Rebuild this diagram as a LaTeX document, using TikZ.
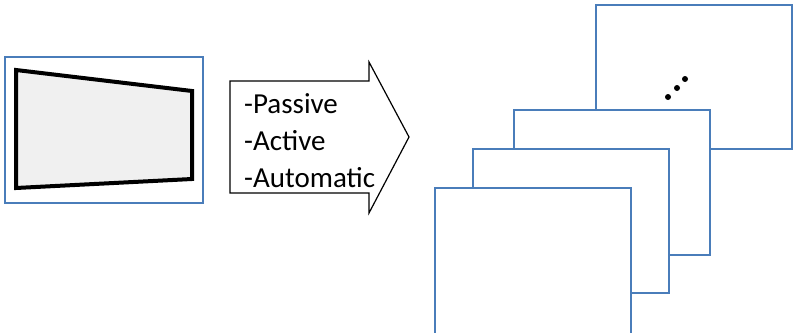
\documentclass[tikz,border=0pt]{standalone}
\usepackage{fontspec}
\setmainfont{Carlito}
\usetikzlibrary{positioning}
\definecolor{oblue}{rgb}{0.29, 0.49, 0.73}
\definecolor{sgray}{rgb}{0.94, 0.94, 0.94}

\begin{document}
\begin{tikzpicture}[x=1pt, y=-1pt]
      \useasboundingbox (0, 0) rectangle (794, 332);

      % screen picture
      \draw [oblue, line width=1.5pt] (5, 57) rectangle (203, 203);
      \draw [line width=4pt, fill=sgray, line join=miter] (16, 70) -- (192, 91) -- (192, 179) -- (16, 188) -- cycle;

      % arrow with the methods
      \draw [line width=1.2pt, line join=miter] (230, 81) -- (369, 81) -- (369, 62) -- (409, 137)
        -- (369, 213) -- (369, 193) -- (230, 193) -- cycle;

      \node (passive) at (244, 113) [anchor=base west, inner sep=0pt] {\fontsize{29}{34}\selectfont -Passive};
      \node (active) at (244, 150) [anchor=base west, inner sep=0pt] {\fontsize{29}{34}\selectfont -Active};
      \node (automatic) at (244, 187) [anchor=base west, inner sep=0pt] {\fontsize{29}{34}\selectfont -Automatic};

      % stack of frames, back to front
      \draw [oblue, line width=2pt, fill=white] (596, 5) rectangle (792, 149);
      \draw [oblue, line width=2pt, fill=white] (514, 110) rectangle (710, 255);
      \draw [oblue, line width=2pt, fill=white] (473, 149) rectangle (669, 293);
      \draw [oblue, line width=2pt, fill=white] (435, 188) rectangle (631, 334);

      \fill (668, 97) circle (3);
      \fill (677, 88) circle (3);
      \fill (685, 79) circle (3);
    \end{tikzpicture}
\end{document}
